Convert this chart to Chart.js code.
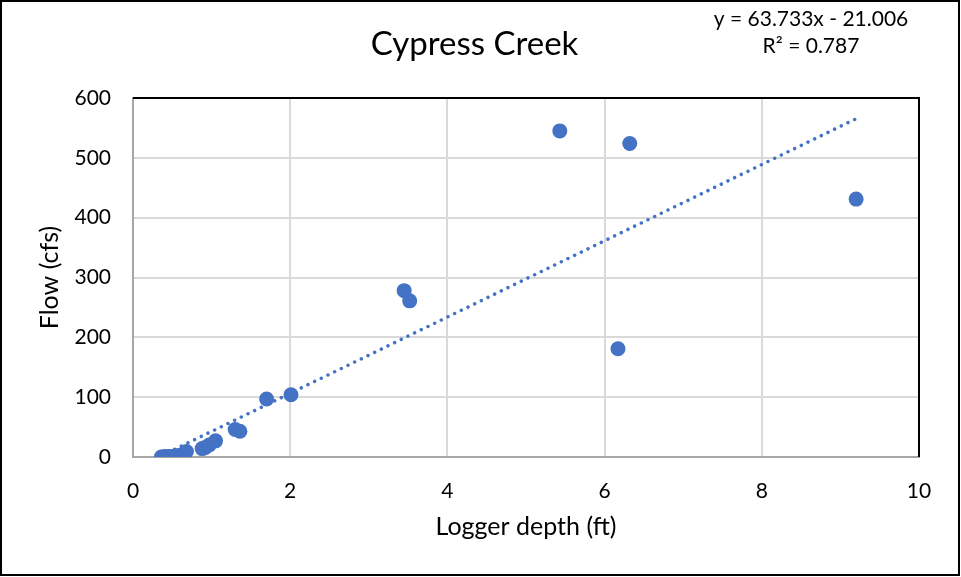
<!DOCTYPE html>
<html>
<head>
<meta charset="utf-8">
<title>Cypress Creek</title>
<script src="https://cdn.jsdelivr.net/npm/chart.js@4.4.1/dist/chart.umd.min.js"></script>
<style>
  html, body { margin: 0; padding: 0; background: #ffffff; }
  #wrap { width: 961px; height: 577px; position: relative; }
</style>
</head>
<body>
<div id="wrap"><canvas id="chart" width="961" height="577"></canvas></div>
<script>
// Logger depth (ft) and measured flow (cfs)
const loggerDepth = [0.36, 0.40, 0.45, 0.50, 0.55, 0.60, 0.64, 0.68, 0.88, 0.92, 0.97, 1.05, 1.30, 1.36, 1.70, 2.01, 3.45, 3.52, 5.43, 6.17, 6.32, 9.20];
const flowCfs     = [0,    1,    1,    1,    2,    3,    5,    9,    14,   16,   20,   27,   46,   43,   97,   104,  278,  261,  545,  181,  524,  431];

// Linear trendline as reported on the chart
const trendSlope = 63.733;
const trendIntercept = -21.006;
const trendR2 = 0.787;

const xTicks = [0, 2, 4, 6, 8, 10];
const yTicks = [0, 100, 200, 300, 400, 500, 600];

const points = loggerDepth.map((x, i) => ({ x: x, y: flowCfs[i] }));
const xMinData = Math.min(...loggerDepth);
const xMaxData = Math.max(...loggerDepth);
const trendPoints = [xMinData, xMaxData].map(x => ({ x: x, y: trendSlope * x + trendIntercept }));

const FONT = 'Lato, "Open Sans", "Liberation Sans", sans-serif';
const BLUE = '#4472C4';

// Outer frame, black top/right plot edges and the equation label
const decorations = {
  id: 'decorations',
  afterDraw(chart) {
    const ctx = chart.ctx;
    const a = chart.chartArea;
    ctx.save();
    ctx.strokeStyle = '#000000';
    ctx.lineWidth = 2;
    ctx.beginPath();
    ctx.moveTo(a.left, a.top);
    ctx.lineTo(a.right, a.top);
    ctx.lineTo(a.right, a.bottom);
    ctx.stroke();

    ctx.lineWidth = 2;
    ctx.strokeRect(1, 1, 958, 574);

    ctx.fillStyle = '#000000';
    ctx.textAlign = 'center';
    ctx.textBaseline = 'middle';
    ctx.font = '21px ' + FONT;
    const sign = trendIntercept < 0 ? ' - ' : ' + ';
    ctx.fillText('y = ' + trendSlope.toFixed(3) + 'x' + sign + Math.abs(trendIntercept).toFixed(3), 811, 19);
    ctx.fillText('R² = ' + trendR2.toFixed(3), 811, 46);
    ctx.restore();
  }
};

new Chart(document.getElementById('chart'), {
  type: 'scatter',
  data: {
    datasets: [
      {
        type: 'line',
        label: 'Linear trend',
        data: trendPoints,
        borderColor: BLUE,
        borderWidth: 3.5,
        borderDash: [0.01, 7.4],
        borderCapStyle: 'round',
        pointRadius: 0,
        fill: false,
        tension: 0
      },
      {
        label: 'Flow',
        data: points,
        backgroundColor: BLUE,
        borderColor: BLUE,
        borderWidth: 0,
        pointRadius: 7.5,
        pointHoverRadius: 7.5
      }
    ]
  },
  options: {
    responsive: false,
    animation: false,
    events: [],
    layout: { padding: { left: 30, right: 42, bottom: 20, top: 0 } },
    plugins: {
      legend: { display: false },
      tooltip: { enabled: false },
      title: {
        display: true,
        text: 'Cypress Creek',
        color: '#000000',
        font: { family: FONT, size: 33, weight: 'normal' },
        padding: { top: 25, bottom: 33.4 }
      }
    },
    scales: {
      x: {
        type: 'linear',
        min: 0,
        max: 10,
        afterBuildTicks(scale) { scale.ticks = xTicks.map(v => ({ value: v })); },
        ticks: { color: '#000000', font: { family: FONT, size: 21 }, padding: 22 },
        grid: { color: '#d9d9d9', lineWidth: 2, drawTicks: false },
        border: { color: '#a6a6a6', width: 2 },
        title: {
          display: true,
          text: 'Logger depth (ft)',
          color: '#000000',
          font: { family: FONT, size: 25 },
          padding: { top: 0, bottom: 15 }
        },
        afterFit(scale) { scale.height = 100; }
      },
      y: {
        type: 'linear',
        min: 0,
        max: 600,
        afterBuildTicks(scale) { scale.ticks = yTicks.map(v => ({ value: v })); },
        ticks: { color: '#000000', font: { family: FONT, size: 21 }, padding: 22 },
        grid: { color: '#d9d9d9', lineWidth: 2, drawTicks: false },
        border: { color: '#a6a6a6', width: 2 },
        title: {
          display: true,
          text: 'Flow (cfs)',
          color: '#000000',
          font: { family: FONT, size: 25 },
          padding: { top: 5, bottom: 0 }
        },
        afterFit(scale) { scale.width = 103; }
      }
    }
  },
  plugins: [decorations]
});
</script>
</body>
</html>
